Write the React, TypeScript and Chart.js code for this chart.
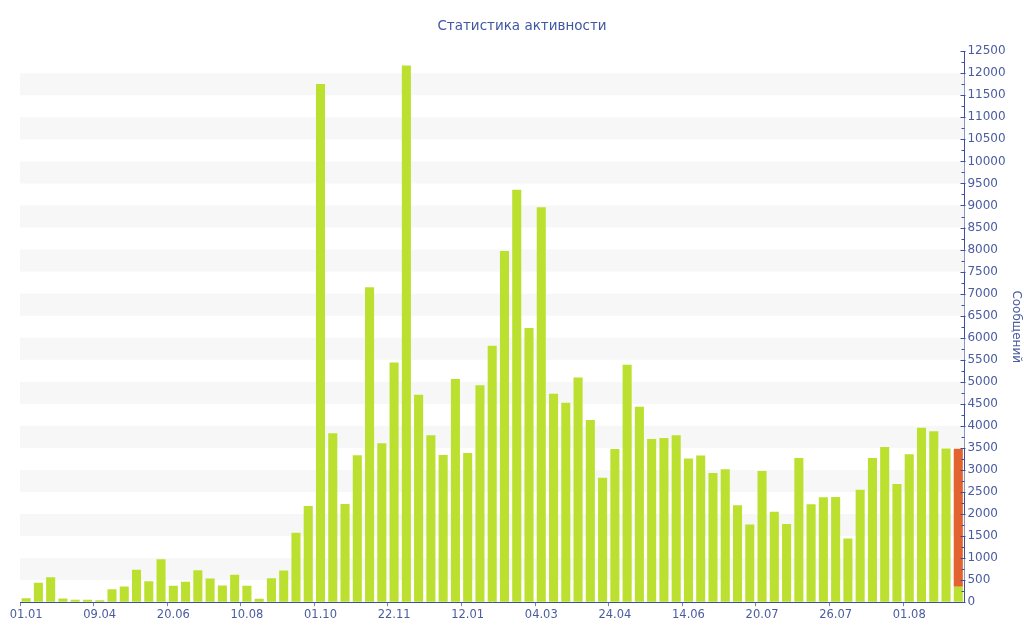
import { useEffect, useRef } from "react";
import { Chart, registerables } from "chart.js";

Chart.register(...registerables);

const chartTitle = "Статистика активности";
const axisTitle = "Сообщений";

const tickLabels = ["01.01", "09.04", "20.06", "10.08", "01.10", "22.11", "12.01", "04.03", "24.04", "14.06", "20.07", "26.07", "01.08"];

const messages = [
  90, 440, 568, 83, 53, 53, 45, 295, 356, 735,
  477, 977, 371, 462, 727, 538, 379, 621, 371, 76,
  545, 720, 1575, 2180, 11757, 3834, 2227, 3333, 7144, 3606,
  5439, 12174, 4705, 3788, 3341, 5061, 3386, 4924, 5818, 7970,
  9356, 6220, 8962, 4727, 4523, 5098, 4136, 2826, 3477, 5386,
  4432, 3705, 3727, 3788, 3258, 3326, 2932, 3015, 2197, 1765,
  2977, 2053, 1773, 3273, 2220, 2379, 2386, 1447, 2553, 3273,
  3523, 2682, 3356, 3955, 3879, 3485, 350,
];

const currentPeriod = [
  0, 0, 0, 0, 0, 0, 0, 0, 0, 0,
  0, 0, 0, 0, 0, 0, 0, 0, 0, 0,
  0, 0, 0, 0, 0, 0, 0, 0, 0, 0,
  0, 0, 0, 0, 0, 0, 0, 0, 0, 0,
  0, 0, 0, 0, 0, 0, 0, 0, 0, 0,
  0, 0, 0, 0, 0, 0, 0, 0, 0, 0,
  0, 0, 0, 0, 0, 0, 0, 0, 0, 0,
  0, 0, 0, 0, 0, 0, 3130,
];

const LABEL_EVERY = 6;
const categories = messages.map((_, i) => (i % LABEL_EVERY === 0 ? tickLabels[i / LABEL_EVERY] ?? "" : ""));

const TEXT = "#4A5CA0";
const AXIS = "#3B4F9C";
const FONT = "'DejaVu Sans', Verdana, sans-serif";

const decorPlugin = {
  id: "decor",
  beforeDatasetsDraw(chart: any) {
    const { ctx, chartArea } = chart;
    const y = chart.scales.y;
    ctx.save();
    ctx.fillStyle = "#F7F7F7";
    for (let v = 500; v < y.max; v += 1000) {
      const top = y.getPixelForValue(v + 500);
      const bottom = y.getPixelForValue(v);
      ctx.fillRect(chartArea.left, top, chartArea.right - chartArea.left, bottom - top);
    }
    ctx.restore();
  },
  afterDraw(chart: any) {
    const { ctx } = chart;
    const y = chart.scales.y;
    const x0 = Math.round(y.left) + 0.5;
    ctx.save();
    ctx.strokeStyle = AXIS;
    ctx.lineWidth = 1;
    ctx.beginPath();
    for (const t of y.ticks) {
      const py = Math.round(y.getPixelForValue(t.value)) + 0.5;
      ctx.moveTo(x0 - 4, py);
      ctx.lineTo(x0 + 1, py);
      const mid = t.value + 250;
      if (mid < y.max) {
        const pm = Math.round(y.getPixelForValue(mid)) + 0.5;
        ctx.moveTo(x0 - 3, pm);
        ctx.lineTo(x0, pm);
      }
    }
    ctx.stroke();
    ctx.restore();
  },
};

export default function App() {
  const ref = useRef<HTMLCanvasElement>(null);

  useEffect(() => {
    if (!ref.current) return;
    const chart = new Chart(ref.current, {
      type: "bar",
      data: {
        labels: categories,
        datasets: [
          {
            label: "Сообщений",
            data: messages,
            backgroundColor: "#BBE030",
            borderWidth: 0,
            barPercentage: 0.74,
            categoryPercentage: 1,
          },
          {
            label: "Текущий период",
            data: currentPeriod,
            backgroundColor: "#E2632F",
            borderWidth: 0,
            barPercentage: 0.74,
            categoryPercentage: 1,
          },
        ],
      },
      options: {
        animation: false,
        responsive: true,
        maintainAspectRatio: false,
        layout: { padding: { left: 20, right: 0, top: 0, bottom: 16 } },
        plugins: {
          legend: { display: false },
          tooltip: { enabled: false },
          title: {
            display: true,
            text: chartTitle,
            color: "#3F56A4",
            font: { family: FONT, size: 13.5, weight: "normal" },
            padding: { top: 18, bottom: 17 },
          },
        },
        scales: {
          x: {
            stacked: true,
            grid: {
              drawOnChartArea: false,
              drawTicks: true,
              tickLength: 4,
              color: (c: any) => (c.index % LABEL_EVERY === 0 ? "#7A86B0" : "rgba(0,0,0,0)"),
            },
            border: { display: true, color: AXIS, width: 1 },
            ticks: {
              autoSkip: false,
              maxRotation: 0,
              color: TEXT,
              padding: 2,
              font: { family: FONT, size: 11.5 },
            },
          },
          y: {
            stacked: true,
            position: "right",
            min: 0,
            max: 12500,
            grid: { display: true, drawOnChartArea: false, drawTicks: false },
            border: { display: true, color: AXIS, width: 1 },
            ticks: {
              stepSize: 500,
              color: TEXT,
              padding: 3,
              font: { family: FONT, size: 12 },
              callback: (v: any) => String(v),
            },
            title: {
              display: true,
              text: axisTitle,
              color: TEXT,
              font: { family: FONT, size: 12 },
              padding: { top: 1, bottom: 0 },
            },
          },
        },
      },
      plugins: [decorPlugin],
    });
    return () => chart.destroy();
  }, []);

  return (
    <div style={{ position: "fixed", left: 0, top: 0, width: 1024, height: 640, background: "#fff" }}>
      <canvas ref={ref} />
    </div>
  );
}
